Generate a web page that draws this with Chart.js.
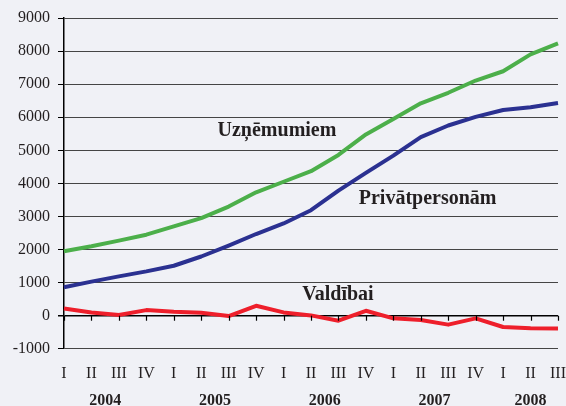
<!DOCTYPE html>
<html>
<head>
<meta charset="utf-8">
<script src="https://cdn.jsdelivr.net/npm/chart.js@4.4.0/dist/chart.umd.min.js"></script>
<style>
  html, body { margin: 0; padding: 0; background: #f0f1f6; }
  #wrap { width: 566px; height: 406px; }
</style>
</head>
<body>
<div id="wrap"><canvas id="c" width="566" height="406"></canvas></div>
<script>
const quarters = ['I','II','III','IV','I','II','III','IV','I','II','III','IV','I','II','III','IV','I','II','III'];
const years = ['2004','2005','2006','2007','2008'];
const yearOfPoint = [0,0,0,0,1,1,1,1,2,2,2,2,3,3,3,3,4,4,4];
const uznemumiem = [1950,2100,2270,2450,2700,2950,3300,3730,4050,4370,4860,5480,5950,6420,6740,7110,7390,7900,8230];
const privatpersonam = [860,1030,1190,1340,1510,1790,2120,2470,2790,3190,3780,4320,4840,5400,5750,6010,6220,6300,6430];
const valdibai = [220,100,20,170,120,90,-10,300,100,10,-150,150,-80,-130,-270,-80,-340,-380,-390];
const seriesNames = ['Uzņēmumiem','Privātpersonām','Valdībai'];

// annotation anchors (category index, value)
const labelAnchors = [
  {x: 7.76, y: 5580},
  {x: 13.25, y: 3520},
  {x: 9.98, y: 640}
];

const FONT = '"Liberation Serif", "Times New Roman", serif';
const TXT = '#231f20';

const extras = {
  id: 'extras',
  afterDatasetsDraw(chart) {
    const ctx = chart.ctx;
    const xs = chart.scales.x, ys = chart.scales.y;
    const y0 = ys.getPixelForValue(0);
    ctx.save();
    // ticks on zero line
    ctx.strokeStyle = '#000';
    ctx.lineWidth = 1.2;
    for (let i = 0; i < quarters.length; i++) {
      const px = Math.round(xs.getPixelForValue(i)) + 0.5;
      ctx.beginPath();
      ctx.moveTo(px, y0);
      ctx.lineTo(px, y0 + 5);
      ctx.stroke();
    }
    // year labels
    ctx.fillStyle = TXT;
    ctx.font = 'bold 16px ' + FONT;
    ctx.textAlign = 'center';
    ctx.textBaseline = 'middle';
    years.forEach((yr, k) => {
      const idx = [];
      yearOfPoint.forEach((v, i) => { if (v === k) idx.push(i); });
      const cx = (xs.getPixelForValue(idx[0]) + xs.getPixelForValue(idx[idx.length - 1])) / 2;
      ctx.fillText(yr, cx, chart.chartArea.bottom + 52);
    });
    // series labels
    ctx.font = 'bold 20px ' + FONT;
    seriesNames.forEach((name, k) => {
      const a = labelAnchors[k];
      ctx.fillText(name, xs.getPixelForValue(a.x), ys.getPixelForValue(a.y));
    });
    ctx.restore();
  }
};

new Chart(document.getElementById('c'), {
  type: 'line',
  data: {
    labels: quarters,
    datasets: [
      { label: seriesNames[0], data: uznemumiem, borderColor: '#4caf4a', borderWidth: 4 },
      { label: seriesNames[1], data: privatpersonam, borderColor: '#2b3191', borderWidth: 4 },
      { label: seriesNames[2], data: valdibai, borderColor: '#ee1f2b', borderWidth: 4 }
    ]
  },
  options: {
    responsive: false,
    animation: false,
    devicePixelRatio: 1,
    layout: { padding: { left: 12, right: 8, top: 18, bottom: 23 } },
    elements: {
      point: { radius: 0 },
      line: { tension: 0, borderJoinStyle: 'round', borderCapStyle: 'butt' }
    },
    plugins: { legend: { display: false }, tooltip: { enabled: false } },
    scales: {
      x: {
        offset: false,
        grid: { display: false, drawTicks: true, tickLength: 15 },
        border: { display: false },
        ticks: {
          autoSkip: false, maxRotation: 0, minRotation: 0, padding: 0,
          color: TXT, font: { family: FONT, size: 16 }
        }
      },
      y: {
        min: -1000, max: 9000,
        afterFit(scale) { scale.width = 52; },
        border: { display: true, color: '#000', width: 1.5 },
        grid: {
          color: (c) => c.tick && c.tick.value === 0 ? '#000' : '#454545',
          lineWidth: (c) => c.tick && c.tick.value === 0 ? 1.5 : 1,
          tickColor: '#000',
          tickLength: 6
        },
        ticks: {
          stepSize: 1000, padding: 8,
          color: TXT, font: { family: FONT, size: 16 },
          callback: (v) => String(v)
        }
      }
    }
  },
  plugins: [extras]
});
</script>
</body>
</html>
